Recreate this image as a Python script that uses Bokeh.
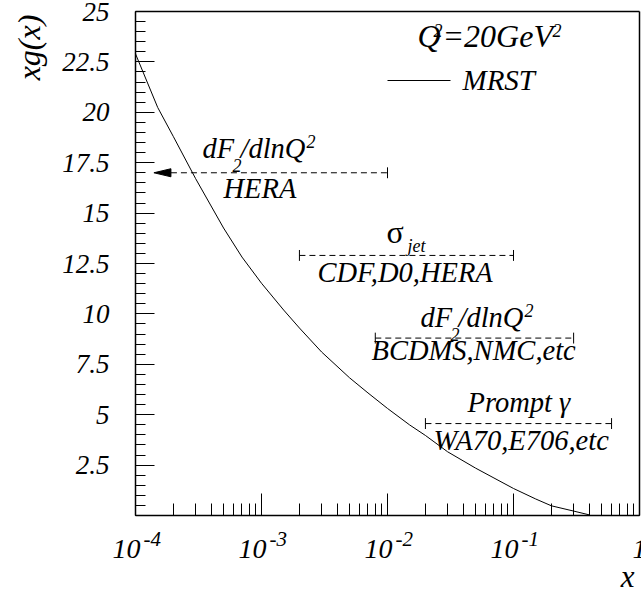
import math
from bokeh.plotting import figure
from bokeh.models import Range1d, FixedTicker, Label, LogAxis, LinearAxis
from bokeh.embed import file_html
from bokeh.resources import INLINE

# ---------------- data ----------------
x_vals = [1e-4, 1.5e-4, 2e-4, 3e-4, 5e-4, 7e-4, 1e-3, 1.5e-3, 2e-3, 3e-3, 5e-3,
          7e-3, 1e-2, 1.5e-2, 2e-2, 3e-2, 5e-2, 7e-2, 0.1, 0.15, 0.2, 0.3, 0.4]
xg_vals = [22.9, 20.24, 18.79, 16.71, 14.26, 12.82, 11.52, 10.19, 9.30, 8.11, 6.83,
           6.08, 5.31, 4.49, 3.97, 3.16, 2.35, 1.86, 1.34, 0.82, 0.48, 0.22, 0.03]

bar_names = ["HERA dF2", "jets", "BCDMS", "prompt"]
bar_lo = [1.4e-4, 2e-3, 8e-3, 2e-2]
bar_hi = [1e-2, 1e-1, 0.3, 0.6]
bar_y = [17.0, 12.9, 8.8, 4.56]

x_min, x_max = 1e-4, 1.0
y_min, y_max = 0.0, 25.0

y_major = [2.5, 5, 7.5, 10, 12.5, 15, 17.5, 20, 22.5, 25]
y_major_labels = ["2.5", "5", "7.5", "10", "12.5", "15", "17.5", "20", "22.5", "25"]
y_minor = [i * 0.5 for i in range(0, 51)]

x_major = [1e-4, 1e-3, 1e-2, 1e-1, 1.0]
x_major_base = ["10", "10", "10", "10", "1"]
x_major_exp = ["-4", "-3", "-2", "-1", ""]
x_minor = [k * 10.0 ** e for e in range(-4, 0) for k in range(1, 10)] + [1.0]

# ---------------- geometry (pixels) ----------------
W, H = 641, 592
FL, FR, FT, FB = 135.0, 639.0, 11.0, 515.0        # plot box in canvas pixels
PX_DEC = (FR - FL) / (math.log10(x_max) - math.log10(x_min))
PX_UNIT = (FB - FT) / (y_max - y_min)

lx0 = math.log10(x_min) - FL / PX_DEC
lx1 = math.log10(x_max) + (W - FR) / PX_DEC
ry0 = y_min - (H - FB) / PX_UNIT
ry1 = y_max + FT / PX_UNIT

p = figure(width=W, height=H, x_axis_type="log",
           x_range=Range1d(10 ** lx0, 10 ** lx1), y_range=Range1d(ry0, ry1),
           output_backend="svg", toolbar_location=None, title=None,
           min_border=0, x_axis_location=None, y_axis_location=None)
p.background_fill_color = "white"
p.border_fill_color = "white"
p.outline_line_color = None
p.grid.visible = False

SERIF = "Liberation Serif"

# bottom axis
xa = LogAxis(fixed_location=y_min, bounds=(x_min, x_max),
             ticker=FixedTicker(ticks=x_major, minor_ticks=x_minor))
xa.major_tick_in = 22
xa.major_tick_out = 0
xa.minor_tick_in = 12
xa.minor_tick_out = 0
xa.major_label_text_font_size = "0px"
xa.major_label_text_alpha = 0
xa.axis_line_color = "black"
xa.axis_line_width = 1.5
xa.major_tick_line_color = "black"
xa.minor_tick_line_color = "black"
p.add_layout(xa, "below")

# left axis
ya = LinearAxis(fixed_location=x_min, bounds=(y_min, y_max),
                ticker=FixedTicker(ticks=y_major, minor_ticks=y_minor))
ya.major_tick_in = 19
ya.major_tick_out = 0
ya.minor_tick_in = 10
ya.minor_tick_out = 0
ya.major_label_overrides = {t: s for t, s in zip(y_major, y_major_labels)}
ya.major_label_text_font = SERIF
ya.major_label_text_font_style = "italic"
ya.major_label_text_font_size = "27px"
ya.major_label_text_color = "black"
ya.major_label_standoff = 26
ya.axis_line_color = "black"
ya.axis_line_width = 1.5
ya.major_tick_line_color = "black"
ya.minor_tick_line_color = "black"
p.add_layout(ya, "left")

# top and right frame edges (plain axes without ticks)
ta = LogAxis(fixed_location=y_max, bounds=(x_min, x_max),
             ticker=FixedTicker(ticks=[]))
ra = LinearAxis(fixed_location=x_max, bounds=(y_min, y_max),
                ticker=FixedTicker(ticks=[]))
for ax in (ta, ra):
    ax.axis_line_color = "black"
    ax.axis_line_width = 1.5
    ax.major_tick_line_color = None
    ax.minor_tick_line_color = None
    ax.major_label_text_font_size = "0px"
p.add_layout(ta, "above")
p.add_layout(ra, "right")

BASE_FIX = 0.35   # empirical shift (in em) of Label's alphabetic baseline


def xd(px):
    return 10 ** (math.log10(x_min) + (px - FL) / PX_DEC)


def yd(py):
    return y_min + (FB - py) / PX_UNIT


def lab(px, py, text, size, style="italic", align="left", font=SERIF,
        angle=0.0, baseline="alphabetic"):
    if baseline == "alphabetic":
        py = py - BASE_FIX * size
    p.add_layout(Label(x=xd(px), y=yd(py), text=text, text_font=font,
                       text_font_size=f"{size}px", text_font_style=style,
                       text_align=align, text_baseline=baseline, angle=angle,
                       text_color="black"))


# ---------------- curve ----------------
p.line(x_vals, xg_vals, line_color="black", line_width=1)

# ---------------- range bars ----------------
head_len = 10 ** (17 / PX_DEC)
x0s, x1s, ys = [], [], []
tx, ty0, ty1 = [], [], []
for i, (lo, hi, yv) in enumerate(zip(bar_lo, bar_hi, bar_y)):
    start = lo * head_len if i == 0 else lo
    x0s.append(start)
    x1s.append(hi)
    ys.append(yv)
    tx.append(hi); ty0.append(yv - 0.27); ty1.append(yv + 0.27)
    if i != 0:
        tx.append(lo); ty0.append(yv - 0.27); ty1.append(yv + 0.27)
p.segment(x0=x0s, y0=ys, x1=x1s, y1=ys, line_color="black", line_width=1,
          line_dash="6 4")
p.segment(x0=tx, y0=ty0, x1=tx, y1=ty1, line_color="black", line_width=1)
p.patch([bar_lo[0], bar_lo[0] * head_len, bar_lo[0] * head_len],
        [bar_y[0], bar_y[0] + 0.2, bar_y[0] - 0.2], color="black")

# ---------------- texts ----------------
TS = 28.5
# HERA dF2/dlnQ2
lab(202, 158, "dF", TS)
lab(232, 171, "2", 18)
lab(240, 158, "/dlnQ", TS)
lab(306, 147, "2", 18)
lab(223, 198, "HERA", TS)
# sigma jet
lab(386, 243, "σ", 32, style="normal")
lab(407, 252, "jet", 18)
lab(317, 282, "CDF,D0,HERA", TS)
# BCDMS
lab(420, 327, "dF", TS)
lab(450, 340, "2", 18)
lab(458, 327, "/dlnQ", TS)
lab(524, 316, "2", 18)
lab(371, 360, "BCDMS,NMC,etc", TS)
# prompt photon
lab(467, 412, "Prompt γ", TS)
lab(433, 450, "WA70,E706,etc", TS)

# legend
lab(417, 47, "Q", 32)
lab(433, 36, "2", 18)
lab(442, 47, "=20GeV", 32)
lab(552, 36, "2", 18)
lab(462, 90, "MRST", 29)
p.line([xd(387), xd(450)], [yd(80), yd(80)], line_color="black", line_width=1)

# axis titles
lab(28, 47, "xg(x)", 32, angle=math.pi / 2, align="center", baseline="middle")
lab(634, 587, "x", 31, align="right")

# x tick labels (10 with raised exponent)
for t, b, e in zip(x_major, x_major_base, x_major_exp):
    if e:
        p.add_layout(Label(x=t, y=yd(558 - BASE_FIX * 28), x_offset=5, text=b,
                           text_font=SERIF, text_font_size="28px",
                           text_font_style="italic", text_align="right",
                           text_baseline="alphabetic", text_color="black"))
        p.add_layout(Label(x=t, y=yd(546 - BASE_FIX * 21), x_offset=8, text=e,
                           text_font=SERIF, text_font_size="21px",
                           text_font_style="italic", text_align="left",
                           text_baseline="alphabetic", text_color="black"))
    else:
        p.add_layout(Label(x=t, y=yd(558 - BASE_FIX * 28), x_offset=-7, text=b,
                           text_font=SERIF, text_font_size="28px",
                           text_font_style="italic", text_align="left",
                           text_baseline="alphabetic", text_color="black"))

open("out.html", "w").write(file_html(p, INLINE))
